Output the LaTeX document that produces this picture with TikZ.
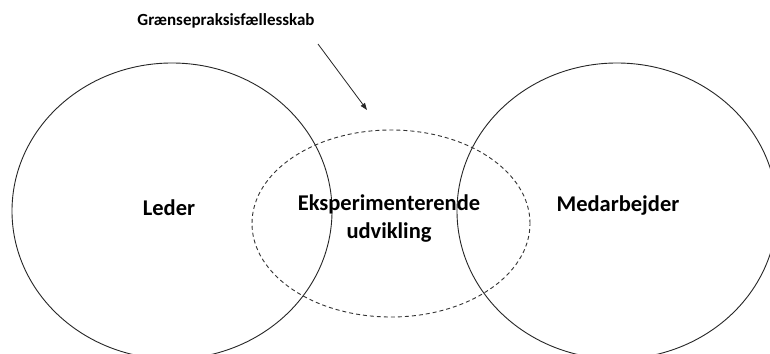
\documentclass[tikz,border=0pt]{standalone}
\usepackage{fontspec}
\setmainfont{Carlito}
\usetikzlibrary{shapes.geometric,arrows.meta}
\begin{document}
\begin{tikzpicture}[x=1pt,y=-1pt,
  party/.style={draw=black!85,line width=0.9pt,ellipse,inner sep=0pt,
    minimum width=320pt,minimum height=296pt},
  zone/.style={draw=black!80,line width=0.9pt,dash pattern=on 4pt off 3pt,
    ellipse,inner sep=0pt,minimum width=278pt,minimum height=187pt},
  label/.style={font=\bfseries\fontsize{22.5}{28}\selectfont,align=center,inner sep=0pt},
  title/.style={font=\bfseries\fontsize{17}{20}\selectfont,inner sep=0pt},
  pointer/.style={draw=black!85,line width=0.8pt,-{Triangle[length=7pt,width=5pt]}}]
  \useasboundingbox (0,0) rectangle (770,353);
  \clip (0,0) rectangle (770,353);
  \fill[white] (0,0) rectangle (770,353);

  % the two practice communities and the boundary zone between them
  \node[party] (leder) at (172,211) {};
  \node[party] (medarb) at (617,211) {};
  \node[zone] (graense) at (391,223.5) {};

  % texts
  \node[label] (tleder) at (169,208) {Leder};
  \node[label] (tmedarb) at (618,206) {Medarbejder};
  \node[label] (tzone) at (389,219) {Eksperimenterende\\udvikling};
  \node[title] (ttitle) at (226,21) {Grænsepraksisfællesskab};

  % pointer from the title towards the boundary zone
  \coordinate (pstart) at (318,44);
  \coordinate (pend) at (367,110);
  \draw[pointer] (pstart) -- (pend);
\end{tikzpicture}
\end{document}
